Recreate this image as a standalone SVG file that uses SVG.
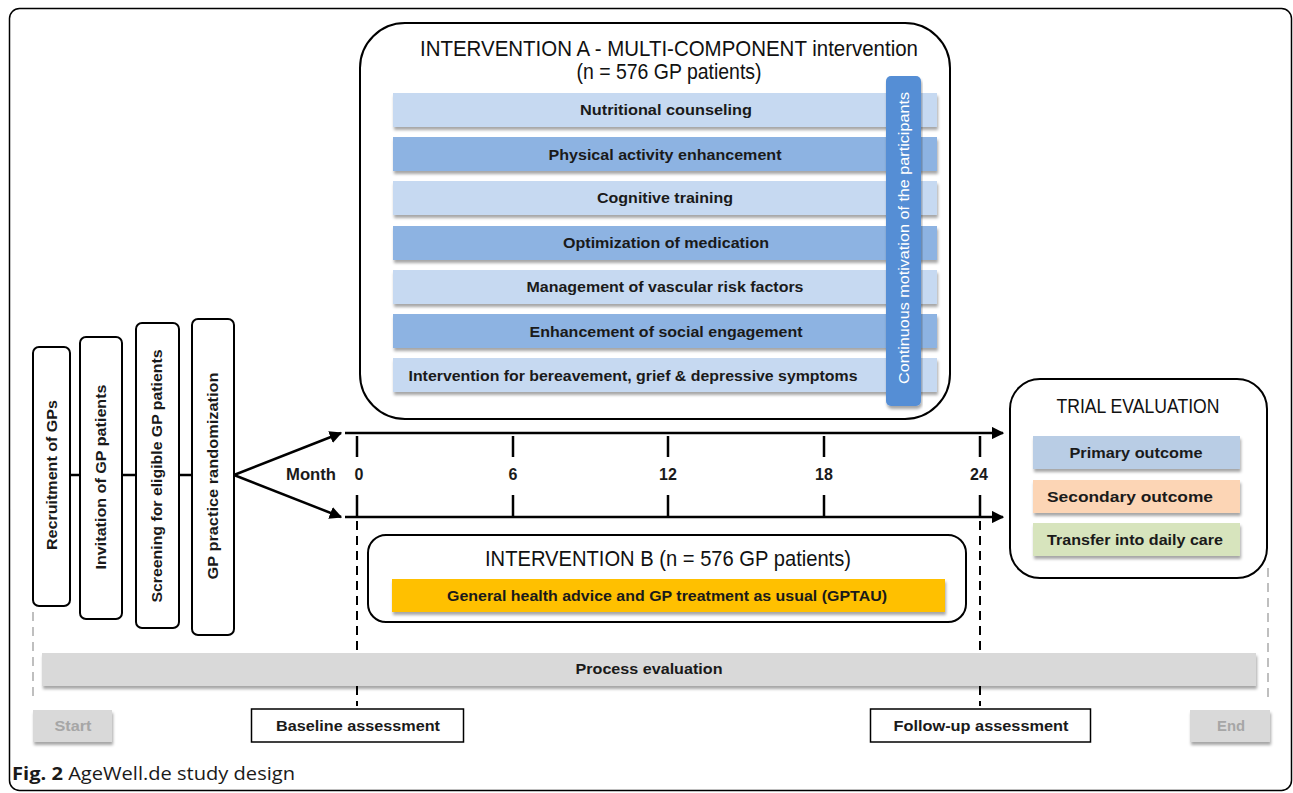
<svg xmlns="http://www.w3.org/2000/svg" width="1293" height="793" viewBox="0 0 1293 793">
<defs>
<filter id="sh" x="-5%" y="-20%" width="110%" height="160%">
<feDropShadow dx="1" dy="3" stdDeviation="1.5" flood-color="#000" flood-opacity="0.35"/>
</filter>
<marker id="ah" viewBox="0 0 10 10" refX="9" refY="5" markerWidth="5" markerHeight="5" orient="auto" markerUnits="strokeWidth">
<path d="M0,0 L10,5 L0,10 z" fill="#000"/>
</marker>
<style>
.t{font-family:"Liberation Sans",Arial,sans-serif;fill:#1a1a1a}
.b{font-weight:bold;font-size:15.5px}
.ttl{font-size:22px;fill:#111}
.box{fill:#fff;stroke:#000;stroke-width:2}
.lb{fill:#c6d9f1}
.db{fill:#8db3e2}
.ln{stroke:#000;stroke-width:2.5;fill:none}
.dash{stroke:#000;stroke-width:2;stroke-dasharray:9,6;fill:none}
.gdash{stroke:#bfbfbf;stroke-width:2;stroke-dasharray:9,6;fill:none}
</style>
</defs>
<rect x="9.5" y="8.5" width="1282" height="782" rx="10" fill="#fff" stroke="#000" stroke-width="1.5"/>

<g id="connectors">
<line class="ln" x1="70" y1="475" x2="80" y2="475"/>
<line class="ln" x1="122" y1="475" x2="136" y2="475"/>
<line class="ln" x1="179" y1="475" x2="192" y2="475"/>
<line class="ln" x1="234" y1="475" x2="341" y2="433" marker-end="url(#ah)"/>
<line class="ln" x1="234" y1="475" x2="341" y2="517" marker-end="url(#ah)"/>
<line class="ln" x1="345" y1="433" x2="1003" y2="433" marker-end="url(#ah)"/>
<line class="ln" x1="345" y1="517" x2="1003" y2="517" marker-end="url(#ah)"/>
<g stroke="#000" stroke-width="2.5">
<line x1="357" y1="436" x2="357" y2="457"/><line x1="357" y1="495" x2="357" y2="517"/>
<line x1="513" y1="436" x2="513" y2="457"/><line x1="513" y1="495" x2="513" y2="517"/>
<line x1="668" y1="436" x2="668" y2="457"/><line x1="668" y1="495" x2="668" y2="517"/>
<line x1="824" y1="436" x2="824" y2="457"/><line x1="824" y1="495" x2="824" y2="517"/>
<line x1="980" y1="436" x2="980" y2="457"/><line x1="980" y1="495" x2="980" y2="517"/>
</g>
<line class="dash" x1="357" y1="521" x2="357" y2="706"/>
<line class="dash" x1="980" y1="521" x2="980" y2="706"/>
<line class="gdash" x1="33" y1="612" x2="33" y2="702"/>
<line class="gdash" x1="1268" y1="568" x2="1268" y2="702"/>
</g>

<g id="timeline-labels" class="t" font-size="16" font-weight="bold" text-anchor="middle">
<text x="311" y="480" textLength="50" lengthAdjust="spacingAndGlyphs">Month</text>
<text x="359" y="480">0</text>
<text x="513" y="480">6</text>
<text x="668" y="480">12</text>
<text x="824" y="480">18</text>
<text x="979" y="480">24</text>
</g>

<g id="recruitment">
<rect class="box" x="33" y="347" width="37" height="259" rx="6"/>
<text class="t b" transform="translate(57,475) rotate(-90)" text-anchor="middle" textLength="150" lengthAdjust="spacingAndGlyphs">Recruitment of GPs</text>
</g>
<g id="invitation">
<rect class="box" x="80" y="337" width="42" height="282" rx="6"/>
<text class="t b" transform="translate(106,477) rotate(-90)" text-anchor="middle" textLength="185" lengthAdjust="spacingAndGlyphs">Invitation of GP patients</text>
</g>
<g id="screening">
<rect class="box" x="136" y="323" width="43" height="305" rx="6"/>
<text class="t b" transform="translate(162,476) rotate(-90)" text-anchor="middle" textLength="253" lengthAdjust="spacingAndGlyphs">Screening for eligible GP patients</text>
</g>
<g id="randomization">
<rect class="box" x="192" y="319" width="42" height="316" rx="6"/>
<text class="t b" transform="translate(218,476) rotate(-90)" text-anchor="middle" textLength="207" lengthAdjust="spacingAndGlyphs">GP practice randomization</text>
</g>

<g id="intervention-a">
<rect class="box" x="360" y="23" width="590" height="396" rx="45"/>
<text class="t ttl" x="669" y="56" text-anchor="middle" textLength="498" lengthAdjust="spacingAndGlyphs">INTERVENTION  A  - MULTI-COMPONENT  intervention</text>
<text class="t ttl" x="669" y="79" text-anchor="middle" textLength="185" lengthAdjust="spacingAndGlyphs">(n = 576 GP patients)</text>
<g filter="url(#sh)">
<rect class="lb" x="393" y="93" width="544" height="34"/>
<rect class="db" x="393" y="137" width="544" height="34"/>
<rect class="lb" x="393" y="181" width="544" height="34"/>
<rect class="db" x="393" y="226" width="544" height="34"/>
<rect class="lb" x="393" y="270" width="544" height="34"/>
<rect class="db" x="393" y="314" width="544" height="34"/>
<rect class="lb" x="393" y="358" width="544" height="34"/>
</g>
<g class="t b" text-anchor="middle">
<text x="666" y="115" textLength="172" lengthAdjust="spacingAndGlyphs">Nutritional counseling</text>
<text x="665" y="160" textLength="233" lengthAdjust="spacingAndGlyphs">Physical activity enhancement</text>
<text x="665" y="203" textLength="136" lengthAdjust="spacingAndGlyphs">Cognitive training</text>
<text x="666" y="248" textLength="206" lengthAdjust="spacingAndGlyphs">Optimization of medication</text>
<text x="665" y="292" textLength="277" lengthAdjust="spacingAndGlyphs">Management of vascular risk factors</text>
<text x="666" y="337" textLength="273" lengthAdjust="spacingAndGlyphs">Enhancement of social engagement</text>
<text x="633" y="381" textLength="449" lengthAdjust="spacingAndGlyphs">Intervention for bereavement, grief &amp; depressive symptoms</text>
</g>
<rect x="886" y="76" width="35" height="330" rx="5" fill="#558ed5" filter="url(#sh)"/>
<text class="t" transform="translate(909,238) rotate(-90)" font-size="14" text-anchor="middle" style="fill:#fff" textLength="292" lengthAdjust="spacingAndGlyphs">Continuous  motivation of the participants</text>
</g>

<g id="intervention-b">
<rect class="box" x="368" y="535" width="598" height="87" rx="18"/>
<text class="t ttl" x="668" y="566" text-anchor="middle" textLength="366" lengthAdjust="spacingAndGlyphs">INTERVENTION  B (n = 576 GP patients)</text>
<rect x="392" y="579" width="553" height="33" fill="#ffc000" filter="url(#sh)"/>
<text class="t b" x="667" y="601" text-anchor="middle" textLength="440" lengthAdjust="spacingAndGlyphs">General health advice and GP treatment as usual (GPTAU)</text>
</g>

<g id="trial-evaluation">
<rect class="box" x="1010" y="379" width="257" height="199" rx="30"/>
<text class="t" x="1138" y="413" font-size="20" text-anchor="middle" style="fill:#111" textLength="163" lengthAdjust="spacingAndGlyphs">TRIAL  EVALUATION</text>
<g filter="url(#sh)">
<rect x="1033" y="436" width="207" height="33" fill="#b9cde5"/>
<rect x="1033" y="480" width="207" height="33" fill="#fcd5b5"/>
<rect x="1033" y="523" width="207" height="33" fill="#d7e4bd"/>
</g>
<g class="t b" text-anchor="middle">
<text x="1136" y="458" textLength="133" lengthAdjust="spacingAndGlyphs">Primary outcome</text>
<text x="1130" y="502" textLength="166" lengthAdjust="spacingAndGlyphs">Secondary outcome</text>
<text x="1135" y="545" textLength="176" lengthAdjust="spacingAndGlyphs">Transfer into daily care</text>
</g>
</g>

<g id="process-evaluation">
<rect x="42" y="653" width="1214" height="33" fill="#d9d9d9" filter="url(#sh)"/>
<text class="t b" x="649" y="674" text-anchor="middle" textLength="147" lengthAdjust="spacingAndGlyphs">Process evaluation</text>
</g>

<g id="start">
<rect x="33" y="710" width="79" height="32" fill="#d9d9d9" filter="url(#sh)"/>
<text class="t b" x="73" y="731" text-anchor="middle" style="fill:#a6a6a6" textLength="37" lengthAdjust="spacingAndGlyphs">Start</text>
</g>
<g id="baseline">
<rect x="251.5" y="709" width="212" height="33" fill="#fff" stroke="#000" stroke-width="1.5"/>
<text class="t b" x="358" y="731" text-anchor="middle" textLength="164" lengthAdjust="spacingAndGlyphs">Baseline assessment</text>
</g>
<g id="follow-up">
<rect x="870.5" y="709" width="220" height="33" fill="#fff" stroke="#000" stroke-width="1.5"/>
<text class="t b" x="981" y="731" text-anchor="middle" textLength="175" lengthAdjust="spacingAndGlyphs">Follow-up assessment</text>
</g>
<g id="end">
<rect x="1190" y="710" width="80" height="32" fill="#d9d9d9" filter="url(#sh)"/>
<text class="t b" x="1231" y="731" text-anchor="middle" style="fill:#a6a6a6" textLength="28" lengthAdjust="spacingAndGlyphs">End</text>
</g>

<text x="12" y="780" font-family="'Open Sans','Liberation Sans',sans-serif" font-size="18" fill="#1a1a1a" textLength="283" lengthAdjust="spacingAndGlyphs"><tspan font-weight="bold">Fig. 2</tspan> AgeWell.de study design</text>
</svg>
